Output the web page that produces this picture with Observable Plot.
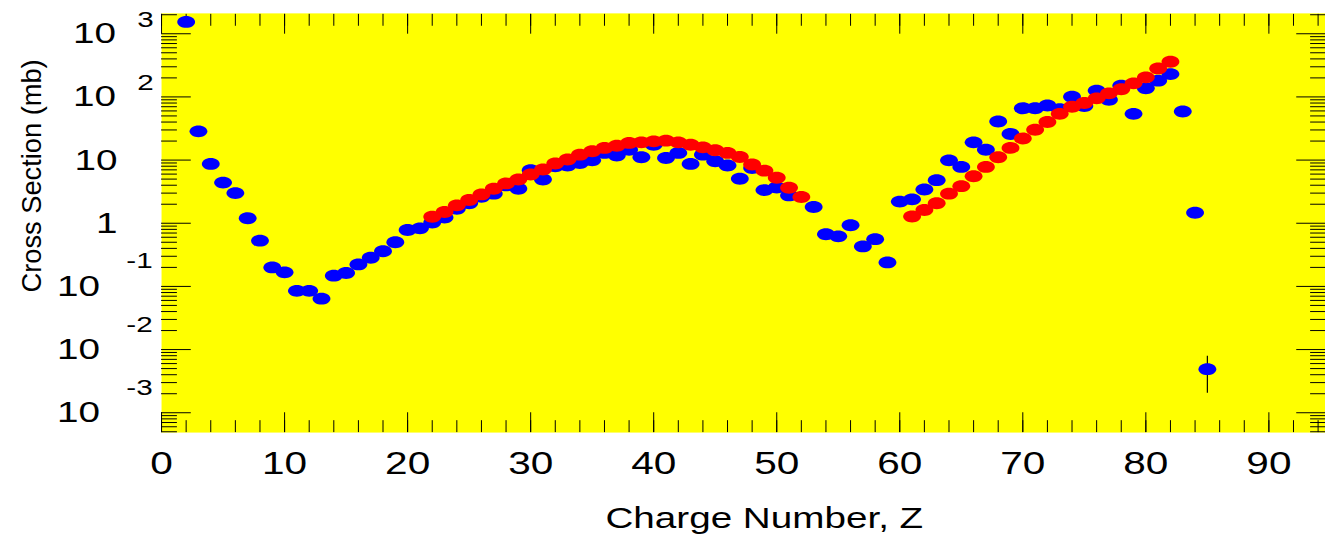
<!DOCTYPE html>
<html><head><meta charset="utf-8">
<script src="https://cdn.jsdelivr.net/npm/d3@7"></script>
<script src="https://cdn.jsdelivr.net/npm/@observablehq/plot@0.6"></script>
<style>html,body{margin:0;padding:0;background:#fff;overflow:hidden;width:1325px;height:542px;}</style>
</head><body><div id="chart"></div><script>
// ---- data ----
const blueZ = [2,3,4,5,6,7,8,9,10,11,12,13,14,15,16,17,18,19,20,21,22,23,24,25,26,27,28,29,30,31,32,33,34,35,36,37,38,39,40,41,42,43,44,45,46,47,48,49,50,51,53,54,55,56,57,58,59,60,61,62,63,64,65,66,67,68,69,70,71,72,73,74,75,76,77,78,79,80,81,82,83,84,85];
const blueCS = [1540,28.5,8.7,4.4,3.0,1.2,0.53,0.20,0.167,0.085,0.085,0.064,0.148,0.163,0.223,0.284,0.36,0.50,0.78,0.83,1.03,1.23,1.70,2.07,2.63,2.94,3.97,3.52,6.9,4.93,7.98,8.2,9.0,9.9,13.0,11.8,14.6,11.1,17.5,10.8,13.0,8.7,12.2,9.6,8.2,5.06,7.5,3.35,3.69,2.76,1.81,0.67,0.62,0.93,0.43,0.56,0.24,2.20,2.39,3.43,4.81,9.9,7.8,19.1,14.6,40.8,25.9,66,66,73,64,101,72,126,90,151,54,137,181,230,58.7,1.47,0.0049];
const redZ = [22,23,24,25,26,27,28,29,30,31,32,33,34,35,36,37,38,39,40,41,42,43,44,45,46,47,48,49,50,51,52,61,62,63,64,65,66,67,68,69,70,71,72,73,74,75,76,77,78,79,80,81,82];
const redCS = [1.27,1.51,1.92,2.33,2.86,3.52,4.27,4.93,5.91,7.08,8.81,10.2,12.2,13.8,15.6,16.9,18.7,19.1,19.8,20.3,19.1,17.5,15.9,14.3,13.0,11.2,8.5,6.8,5.24,3.65,2.60,1.28,1.62,2.07,2.94,3.87,5.56,7.8,11.1,15.6,22.0,30.2,40,54,70,80,95,114,132,164,204,283,360];
const errZ = [85];
const errLo = [0.00203];
const errHi = [0.00784];

const xTickValues = [0,10,20,30,40,50,60,70,80,90];
const xTickLabels = ["0","10","20","30","40","50","60","70","80","90"];
const yTickValues = [1e-3,1e-2,1e-1,1,10,100,1000];
const yTickBase = ["10","10","10","1","10","10","10"];
const yTickExp = ["-3","-2","-1","","","2","3"];
const xTitle = "Charge Number, Z";
const yTitle = "Cross Section (mb)";

// ---- tables ----
const blue = blueZ.map((z,i)=>({Z:z, cs:blueCS[i]}));
const red = redZ.map((z,i)=>({Z:z, cs:redCS[i]}));
const err = errZ.map((z,i)=>({Z:z, lo:errLo[i], hi:errHi[i]}));
const xTicks = xTickValues.map((v,i)=>({v, t:xTickLabels[i]}));
const yTicks = yTickValues.map((v,i)=>({v, base:yTickBase[i], exp:yTickExp[i]}));
const yNeg = yTicks.filter(d=>d.exp.startsWith("-"));
const yPos = yTicks.filter(d=>d.exp !== "" && !d.exp.startsWith("-"));
const yPlain = yTicks.filter(d=>d.exp === "");

const yDomain = [Math.pow(10,-3.314), Math.pow(10,3.3226)];
const xDomain = [0, 94.6];
const yMinor = [];
for (let k=-4;k<=3;k++) for (let m=2;m<=9;m++) {
  const v = m*Math.pow(10,k);
  if (v >= yDomain[0] && v <= yDomain[1]) yMinor.push(v);
}
const xMinor = d3.range(0, 95, 2).filter(v => v <= xDomain[1]);

const ellipse = {
  draw(ctx, size) {
    const r = Math.sqrt(size/Math.PI), rx = r*1.5, ry = r, k = 0.5523;
    ctx.moveTo(rx,0);
    ctx.bezierCurveTo(rx,k*ry,k*rx,ry,0,ry);
    ctx.bezierCurveTo(-k*rx,ry,-rx,k*ry,-rx,0);
    ctx.bezierCurveTo(-rx,-k*ry,-k*rx,-ry,0,-ry);
    ctx.bezierCurveTo(k*rx,-ry,rx,-k*ry,rx,0);
    ctx.closePath();
  }
};

const tk = {stroke:"black", strokeWidth:1, tickFormat:()=>"", label:null};

const plot = Plot.plot({
  width: 1337, height: 542,
  marginLeft: 162.5, marginRight: 0, marginTop: 13, marginBottom: 106,
  style: {fontFamily: "'Liberation Sans', Arial, sans-serif", background: "white", color: "black", display: "block"},
  x: {domain: xDomain, axis: null},
  y: {type: "log", domain: yDomain, axis: null},
  marks: [
    Plot.frame({fill: "#ffff00", stroke: "none"}),
    Plot.axisY({anchor:"left", ticks: yTickValues, tickSize: -30, ...tk}),
    Plot.axisY({anchor:"left", ticks: yMinor, tickSize: -16, ...tk}),
    Plot.axisY({anchor:"right", ticks: yTickValues, tickSize: -30, ...tk}),
    Plot.axisY({anchor:"right", ticks: yMinor, tickSize: -16, ...tk}),
    Plot.axisX({anchor:"top", ticks: xTickValues, tickSize: -20, ...tk}),
    Plot.axisX({anchor:"top", ticks: xMinor, tickSize: -12, ...tk}),
    Plot.axisX({anchor:"bottom", ticks: xTickValues, tickSize: -20, ...tk}),
    Plot.axisX({anchor:"bottom", ticks: xMinor, tickSize: -12, ...tk}),
    Plot.ruleX(err, {x:"Z", y1:"lo", y2:"hi", stroke:"black", strokeWidth:1.2}),
    Plot.dot(blue, {x:"Z", y:"cs", r:6, symbol: ellipse, fill:"#0000ff", stroke:"none"}),
    Plot.dot(red, {x:"Z", y:"cs", r:6, symbol: ellipse, fill:"#ff0000", stroke:"none"}),
    // x tick labels
    Plot.text(xTicks, {x:"v", text:"t", frameAnchor:"bottom", dy:32, lineAnchor:"middle", fontSize:31.5, fill:"black"}),
    // y tick labels
    Plot.text(yPos, {y:"v", text:"base", frameAnchor:"left", dx:-46, textAnchor:"end", lineAnchor:"middle", fontSize:30, fill:"black"}),
    Plot.text(yPos, {y:"v", text:"exp", frameAnchor:"left", dx:-8, dy:-14, textAnchor:"end", lineAnchor:"middle", fontSize:23, fill:"black"}),
    Plot.text(yNeg, {y:"v", text:"base", frameAnchor:"left", dx:-62, textAnchor:"end", lineAnchor:"middle", fontSize:30, fill:"black"}),
    Plot.text(yNeg, {y:"v", text:"exp", frameAnchor:"left", dx:-9, dy:-25.5, textAnchor:"end", lineAnchor:"middle", fontSize:23, fill:"black"}),
    Plot.text(yPlain, {y:"v", text:"base", frameAnchor:"left", dx:-44.5, textAnchor:"end", lineAnchor:"middle", fontSize:30, fill:"black"}),
    // axis titles
    Plot.text([xTitle], {text: d=>d, frameAnchor:"bottom", dx:21, dy:87, lineAnchor:"middle", fontSize:30, fill:"black"}),
    Plot.text([yTitle], {text: d=>d, frameAnchor:"left", dx:-130.5, dy:-47.5, rotate:-90, textAnchor:"middle", lineAnchor:"middle", fontSize:27.5, fill:"black"})
  ]
});
document.getElementById("chart").append(plot);
// the reference's lettering is drawn about 1.3x wider than it is tall
plot.querySelectorAll('text').forEach(t => {
  if (t.textContent === yTitle) return;
  const tr = (t.getAttribute("transform") || "") + ((t.parentNode && t.parentNode.getAttribute && t.parentNode.getAttribute("transform")) || "");
  if (tr.includes("rotate")) return;
  const L = t.getComputedTextLength();
  if (L > 0) { t.setAttribute("textLength", (L*1.3).toFixed(1)); t.setAttribute("lengthAdjust", "spacingAndGlyphs"); }
});
</script></body></html>
